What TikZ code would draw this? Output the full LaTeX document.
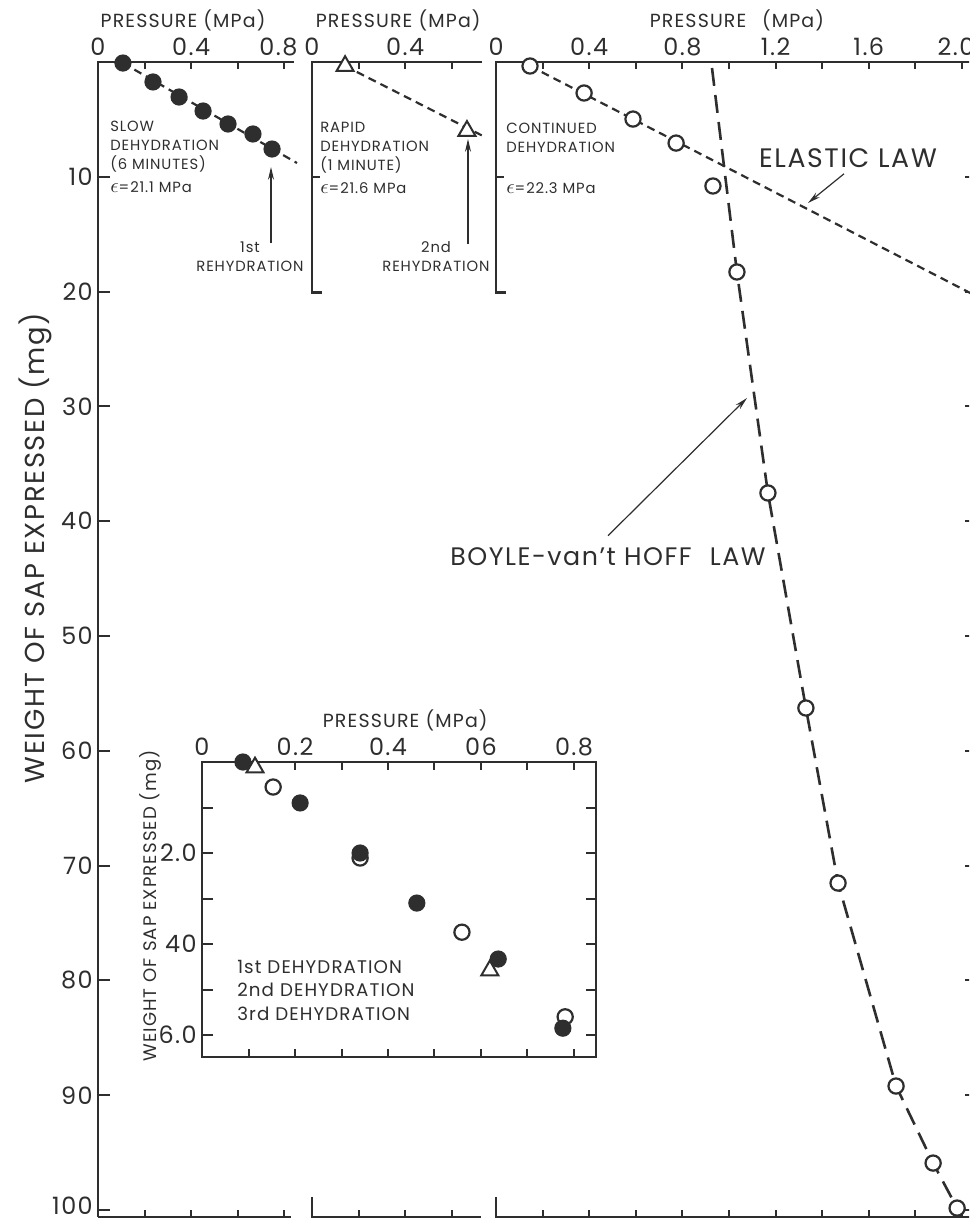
\documentclass[tikz,border=0pt]{standalone}
\usepackage{fontspec}
\setmainfont{Poppins}[LetterSpace=6]
\usetikzlibrary{arrows.meta, shapes.geometric, backgrounds}
\definecolor{ink}{gray}{0.18}
\newcommand{\elmod}{\scalebox{1.35}{$\epsilon$}}

\begin{document}
\begin{tikzpicture}[
        x=0.25mm, y=-0.25mm,
        % Styles
        axis/.style={draw=ink, line width=0.65mm, line join=miter},
        tickmark/.style={draw=ink, line width=0.5mm},
        ticklab/.style={text=ink, inner sep=0pt, font=\fontsize{17}{20}\selectfont},
        presslab/.style={text=ink, inner sep=0pt, anchor=base, font=\fontsize{13.5}{16}\selectfont},
        note/.style={text=ink, inner sep=0pt, align=left, anchor=north west, font=\fontsize{10.5}{13.5}\selectfont},
        rehy/.style={text=ink, inner sep=0pt, align=center, font=\fontsize{10.5}{13.5}\selectfont},
        lawlab/.style={text=ink, inner sep=0pt, font=\fontsize{19}{22}\selectfont},
        ylab/.style={text=ink, inner sep=0pt, rotate=90, font=\fontsize{19.5}{22}\selectfont},
        smallylab/.style={text=ink, inner sep=0pt, rotate=90, font=\fontsize{12.9}{15}\selectfont},
        legend/.style={text=ink, inner sep=0pt, align=left, anchor=north west, font=\fontsize{13}{16.7}\selectfont},
        fulldot/.style={circle, fill=ink, draw=ink, line width=0.3mm, minimum size=4mm, inner sep=0pt},
        opendot/.style={circle, fill=white, draw=ink, line width=0.55mm, minimum size=3.8mm, inner sep=0pt},
        tri/.style={regular polygon, regular polygon sides=3, fill=white, draw=ink, line width=0.5mm, minimum size=4.9mm, inner sep=0pt},
        fitline/.style={draw=ink, line width=0.55mm, dash pattern=on 2mm off 1.3mm},
        boyleline/.style={draw=ink, line width=0.65mm, dash pattern=on 4.5mm off 2.3mm},
        pointer/.style={draw=ink, line width=0.3mm, -{Stealth[length=3.2mm, width=1.5mm]}},
    ]
        \useasboundingbox (0,0) rectangle (969,1220);
        \clip (0,0) rectangle (969,1220);

        % === PANEL 1: slow dehydration (also carries the main weight axis) ===
        \begin{scope}[shift={(98,62)}, x=58.25mm, y=-2.87mm]
            \draw[axis] (0,100.6) -- (0,0) -- (0.84,0);
            \draw[axis] (0,100.6) -- (0.83,100.6);
            \foreach \t in {0.2,0.4,0.6,0.8} {
                \draw[tickmark] (\t,0) -- ++(0pt,-1.8mm);
                \draw[tickmark] (\t,100.6) -- ++(0pt,1.8mm);
            }
            \foreach \w in {10,20,...,90} {
                \draw[tickmark] (0,\w) -- ++(3mm,0pt);
                \node[ticklab, anchor=east, xshift=-1.25mm] (wlab\w) at (0,\w) {\w};
            }
            \draw[tickmark] (0,100) -- ++(3mm,0pt);
            \node[ticklab, anchor=east, xshift=-1.25mm, yshift=1.2mm] (wlab100) at (0,100) {100};
            \node[ticklab, anchor=base, yshift=1.75mm] (pa1) at (0,0) {0};
            \node[ticklab, anchor=base, yshift=1.75mm] (pa2) at (0.4,0) {0.4};
            \node[ticklab, anchor=base, yshift=1.75mm, xshift=-1.5mm] (pa3) at (0.8,0) {0.8};
            \node[presslab, yshift=8.75mm] (press1) at (0.365,0) {PRESSURE (MPa)};

            % data: filled dots
            \foreach \x/\y [count=\i] in {0.107/0.09, 0.236/1.74, 0.348/3.05, 0.451/4.27, 0.558/5.40, 0.665/6.27, 0.747/7.58}
                \node[fulldot] (slow\i) at (\x,\y) {};
            \coordinate (slowend) at (0.854,8.8);
            \begin{scope}[on background layer]
                \draw[fitline] (slow1.center) -- (slowend);
            \end{scope}
        \end{scope}

        % === PANEL 2: rapid dehydration ===
        \begin{scope}[shift={(312,62)}, x=58.25mm, y=-2.87mm]
            \draw[axis] (0.73,0) -- (0,0) -- (0,20.1) -- ++(2.5mm,0pt);
            \draw[axis] (0,98.86) -- (0,100.6) -- (0.727,100.6);
            \foreach \t in {0.2,0.4,0.6} {
                \draw[tickmark] (\t,0) -- ++(0pt,-1.8mm);
                \draw[tickmark] (\t,100.6) -- ++(0pt,1.8mm);
            }
            \draw[tickmark] (0,10) -- ++(2mm,0pt);
            \node[ticklab, anchor=base, yshift=1.75mm] (pb1) at (0,0) {0};
            \node[ticklab, anchor=base, yshift=1.75mm] (pb2) at (0.4,0) {0.4};
            \node[presslab, yshift=8.75mm] (press2) at (0.37,0) {PRESSURE (MPa)};

            % data: triangles
            \node[tri] (rapid1) at (0.142,0.35) {};
            \node[tri] (rapid2) at (0.665,6.0) {};
            \coordinate (rapidend) at (0.742,6.53);
            \begin{scope}[on background layer]
                \draw[fitline] (rapid1.center) -- (rapidend);
            \end{scope}
        \end{scope}

        % === PANEL 3: continued dehydration ===
        \begin{scope}[shift={(496,62)}, x=58.25mm, y=-2.87mm]
            \draw[axis] (2.1,0) -- (0,0) -- (0,20.1) -- ++(2.5mm,0pt);
            \draw[axis] (0,98.86) -- (0,100.6) -- (2.1,100.6);
            \foreach \t in {0.2,0.4,...,2.01} {
                \draw[tickmark] (\t,0) -- ++(0pt,-1.8mm);
                \draw[tickmark] (\t,100.6) -- ++(0pt,1.8mm);
            }
            \draw[tickmark] (0,10) -- ++(2mm,0pt);
            \foreach \w in {10,20,...,100}
                \draw[tickmark] (2.056,\w) -- ++(-2.5mm,0pt);
            \foreach \p [count=\i] in {0,0.4,0.8,1.2,1.6}
                \node[ticklab, anchor=base, yshift=1.75mm] (pc\i) at (\p,0) {\p};
            \node[ticklab, anchor=base, yshift=1.75mm, xshift=-1.5mm] (pc6) at (2.0,0) {2.0};
            \node[presslab, yshift=8.75mm] (press3) at (1.034,0) {PRESSURE\hspace{0.5em} (MPa)};

            % data: open circles
            \foreach \x/\y [count=\i] in {0.146/0.35, 0.378/2.70, 0.588/4.97, 0.773/7.06, 0.931/10.8}
                \node[opendot] (cont\i) at (\x,\y) {};
            \foreach \x/\y [count=\i] in {1.034/18.29, 1.167/37.54, 1.330/56.27, 1.468/71.52, 1.717/89.20, 1.876/95.91, 1.979/99.83}
                \node[opendot] (boyle\i) at (\x,\y) {};
            \coordinate (elasticend) at (2.1,20.8);
            \coordinate (boyletop) at (0.927,0.52);
            \begin{scope}[on background layer]
                \draw[fitline] (cont1.center) -- (elasticend);
                \draw[boyleline] (boyletop) -- (boyle1.center) -- (boyle2.center) -- (boyle3.center)
                    -- (boyle4.center) -- (boyle5.center) -- (boyle6.center) -- (boyle7.center);
            \end{scope}
        \end{scope}

        % === PANEL NOTES ===
        \node[note] (slownote) at (110,121) {SLOW\\DEHYDRATION\\(6 MINUTES)\\[1mm]\elmod=21.1 MPa};
        \node[note] (rapidnote) at (320,122) {RAPID\\DEHYDRATION\\(1 MINUTE)\\[1mm]\elmod=21.6 MPa};
        \node[note] (contnote) at (506,123) {CONTINUED\\DEHYDRATION\\[5.5mm]\elmod=22.3 MPa};

        % rehydration arrows
        \node[rehy] (reh1) at (250,257) {1st\\REHYDRATION};
        \coordinate (reh1tail) at (271,243);
        \coordinate (reh1tip) at (271,167);
        \draw[pointer] (reh1tail) -- (reh1tip);

        \node[rehy] (reh2) at (436,257) {2nd\\REHYDRATION};
        \coordinate (reh2tail) at (468,244);
        \coordinate (reh2tip) at (468,139);
        \draw[pointer] (reh2tail) -- (reh2tip);

        % === LAW LABELS ===
        \node[lawlab] (elastic) at (848,158) {ELASTIC LAW};
        \coordinate (elastictip) at (808,203);
        \draw[pointer] ([xshift=-1mm, yshift=-1.5mm]elastic.south) -- (elastictip);

        \node[lawlab, font=\fontsize{18}{21}\selectfont] (boylelaw) at (608,557) {BOYLE-van't HOFF\hspace{0.4em} LAW};
        \coordinate (boyletip) at (747,398);
        \draw[pointer] ([yshift=3mm]boylelaw.north) -- (boyletip);

        % === MAIN WEIGHT AXIS LABEL ===
        \node[ylab] (weight) at (35,548) {WEIGHT OF SAP EXPRESSED (mg)};

        % === INSET ===
        \begin{scope}[shift={(202,762)}, x=116.25mm, y=-11.375mm]
            \draw[axis] (0,0) rectangle (0.847,6.48);
            \foreach \t in {0.1,0.2,...,0.81} {
                \draw[tickmark] (\t,0) -- ++(0pt,-2mm);
                \draw[tickmark] (\t,6.48) -- ++(0pt,2mm);
            }
            \foreach \w in {1,...,6} {
                \draw[tickmark] (0,\w) -- ++(2.8mm,0pt);
                \draw[tickmark] (0.847,\w) -- ++(-2.5mm,0pt);
            }
            \foreach \p/\l [count=\i] in {0/0, 0.2/0.2, 0.4/0.4, 0.6/06, 0.8/0.8}
                \node[ticklab, anchor=base, yshift=1.75mm] (pi\i) at (\p,0) {\l};
            \foreach \w/\l [count=\i] in {2/2.0, 4/40, 6/6.0}
                \node[ticklab, anchor=east, xshift=-1.25mm] (wi\i) at (0,\w) {\l};
            \node[presslab, yshift=8.75mm] (press4) at (0.437,0) {PRESSURE (MPa)};

            % data, back to front
            \node[opendot] (open2) at (0.340,2.11) {};
            \node[opendot] (open4) at (0.781,5.60) {};
            \node[tri] (tri2) at (0.619,4.58) {};
            \node[tri] (tri1) at (0.114,0.12) {};
            \node[fulldot] (full1) at (0.088,0.0) {};
            \node[opendot] (open1) at (0.153,0.55) {};
            \node[fulldot] (full2) at (0.211,0.90) {};
            \node[fulldot] (full3) at (0.340,2.0) {};
            \node[fulldot] (full4) at (0.462,3.10) {};
            \node[opendot] (open3) at (0.559,3.74) {};
            \node[fulldot] (full5) at (0.637,4.33) {};
            \node[fulldot] (full6) at (0.776,5.85) {};
        \end{scope}

        \node[smallylab] (iweight) at (150,906) {WEIGHT OF SAP EXPRESSED (mg)};
        \node[legend] (key) at (237,960) {1st DEHYDRATION\\2nd DEHYDRATION\\3rd DEHYDRATION};

    \end{tikzpicture}
\end{document}
